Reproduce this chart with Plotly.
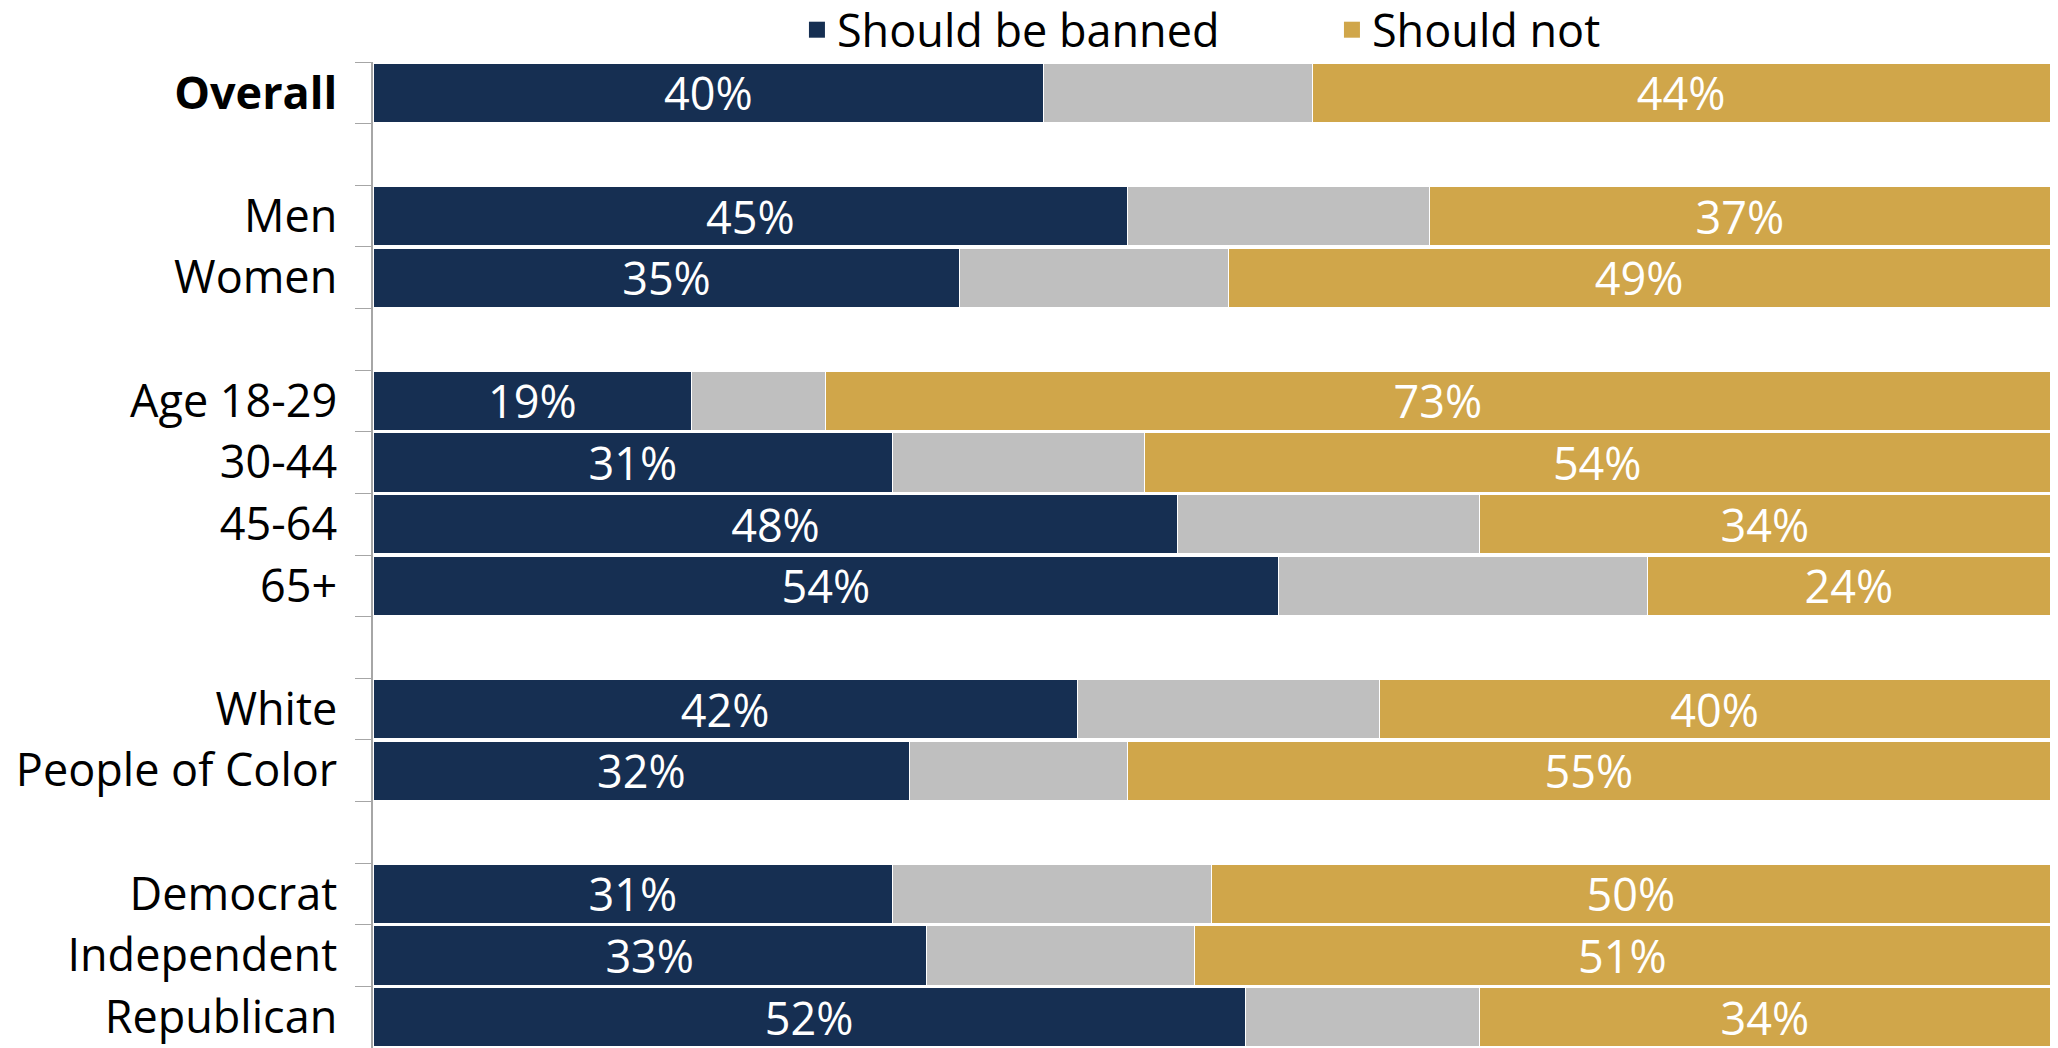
import plotly.graph_objects as go

# rows top to bottom; blank strings are spacer rows between groups
groups = ["<b>Overall</b>", " ", "Men", "Women", "  ", "Age 18-29", "30-44", "45-64", "65+",
          "   ", "White", "People of Color", "    ", "Democrat", "Independent", "Republican"]
banned = [40, None, 45, 35, None, 19, 31, 48, 54, None, 42, 32, None, 31, 33, 52]
should_not = [44, None, 37, 49, None, 73, 54, 34, 24, None, 40, 55, None, 50, 51, 34]
unsure = [None if b is None else 100 - b - n for b, n in zip(banned, should_not)]

NAVY = "#162F52"
GREY = "#BFBFBF"
GOLD = "#D0A64A"
FONT = "Open Sans"

fig = go.Figure()

fig.add_trace(go.Bar(
    y=groups, x=banned, orientation="h", name="Should be banned",
    marker=dict(color=NAVY, line=dict(color="white", width=1)),
    texttemplate="%{x}%", textposition="inside", insidetextanchor="middle",
    constraintext="none",
    textfont=dict(color="white", size=45, family=FONT),
    showlegend=False,
))
fig.add_trace(go.Bar(
    y=groups, x=unsure, orientation="h", name="Unsure",
    marker=dict(color=GREY, line=dict(color="white", width=1)),
    hoverinfo="skip", showlegend=False,
))
fig.add_trace(go.Bar(
    y=groups, x=should_not, orientation="h", name="Should not",
    marker=dict(color=GOLD, line=dict(color="white", width=1)),
    texttemplate="%{x}%", textposition="inside", insidetextanchor="middle",
    constraintext="none",
    textfont=dict(color="white", size=45, family=FONT),
    showlegend=False,
))

# legend-only markers so the swatches are squares like the original
for name, color in [("Should be banned", NAVY), ("Should not", GOLD)]:
    fig.add_trace(go.Scatter(
        x=[None], y=[None], mode="markers", name=name,
        marker=dict(symbol="square", size=28, color=color),
    ))

# page body adds an 8px offset, so the figure is 8px smaller on each axis
fig.update_layout(
    width=2050,
    height=1040,
    barmode="stack",
    bargap=0.04,
    plot_bgcolor="white",
    paper_bgcolor="white",
    margin=dict(l=365, r=8, t=54, b=0, autoexpand=False),
    font=dict(family=FONT, size=45, color="black"),
    legend=dict(
        orientation="h",
        traceorder="normal",
        x=0.2528, xanchor="left",
        y=1.0325, yanchor="middle",
        bgcolor="rgba(0,0,0,0)",
        font=dict(size=45, color="black"),
        itemsizing="trace",
        entrywidth=490,
        tracegroupgap=0,
    ),
    xaxis=dict(range=[0, 100], visible=False, fixedrange=True),
    yaxis=dict(
        categoryorder="array",
        categoryarray=groups,
        autorange="reversed",
        tickson="boundaries",
        ticks="outside",
        ticklen=16,
        tickcolor="#A6A6A6",
        showline=True,
        linecolor="#A6A6A6",
        linewidth=1.5,
        showgrid=False,
        automargin=False,
        tickfont=dict(size=45, color="black"),
        ticklabelstandoff=25,
    ),
)

fig.write_html("out.html")
